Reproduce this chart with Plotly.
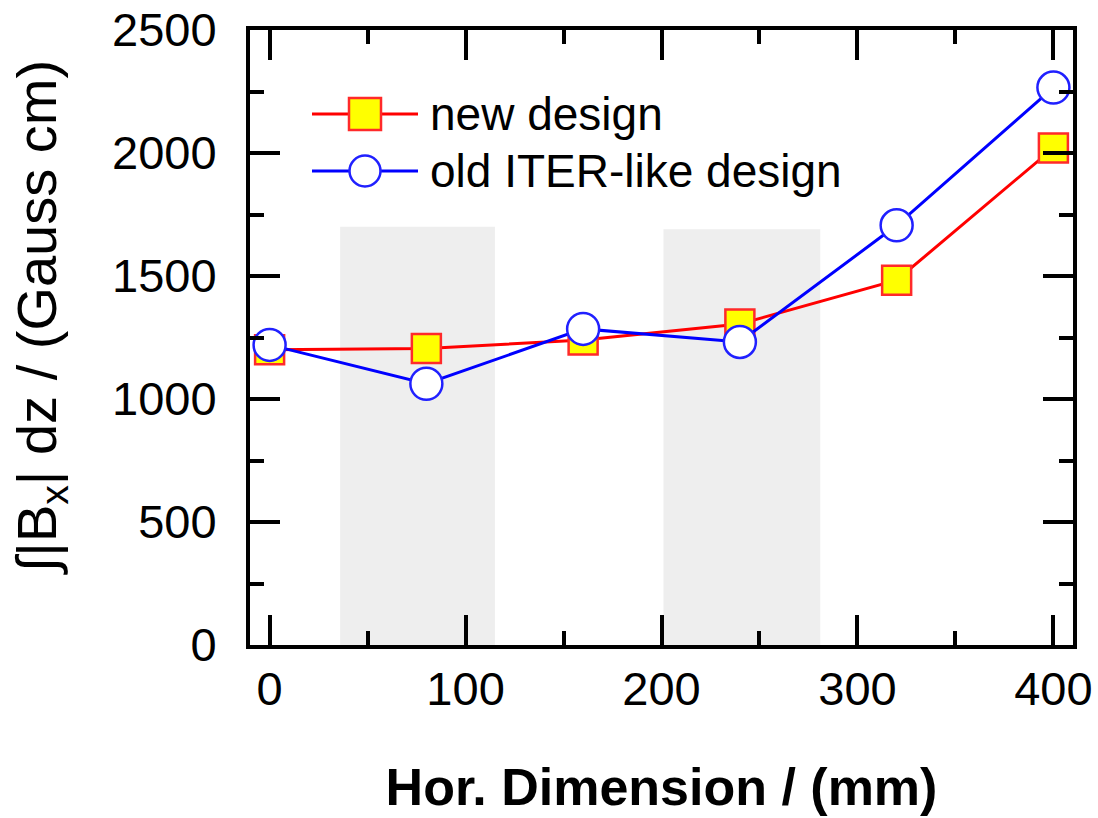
import plotly.graph_objects as go

x_pos = [0, 80, 160, 240, 320, 400]
new_design = [1200, 1205, 1240, 1305, 1483, 2020]
old_design = [1220, 1062, 1285, 1232, 1706, 2266]
shade_x0 = [36, 201]
shade_x1 = [115, 281]
shade_top = [1700, 1690]
series_names = ["new design", "old ITER-like design"]
x_ticks = [0, 100, 200, 300, 400]
y_ticks = [0, 500, 1000, 1500, 2000, 2500]
x_range = [-10, 410]
y_range = [0, 2500]

W, H = 1098, 818
ML, MR, MT, MB = 250, 25, 30, 173
PW = W - ML - MR
PH = H - MT - MB
FONT = "Liberation Sans, Arial"


def px(X):
    return (X - ML) / PW


def py(Y):
    return 1 - (Y - MT) / PH


fig = go.Figure()

for a, b, t in zip(shade_x0, shade_x1, shade_top):
    fig.add_shape(type="rect", xref="x", yref="y", x0=a, x1=b, y0=0, y1=t,
                  fillcolor="#eeeeee", line=dict(width=0), layer="below")

fig.add_trace(go.Scatter(
    x=x_pos, y=new_design, mode="lines+markers", name=series_names[0],
    line=dict(color="#ff0000", width=3),
    marker=dict(symbol="square", size=29, color="#ffff00",
                line=dict(color="#ff2a2a", width=2.5)),
    showlegend=False,
))
fig.add_trace(go.Scatter(
    x=x_pos, y=old_design, mode="lines+markers", name=series_names[1],
    line=dict(color="#0000ff", width=3),
    marker=dict(symbol="circle", size=32, color="#ffffff",
                line=dict(color="#2020ff", width=2.5)),
    showlegend=False,
))

# custom legend (paper coordinates) with full-size symbols
leg_rows = [114, 171]
for row_y, name, col in zip(leg_rows, series_names, ["#ff0000", "#0000ff"]):
    fig.add_shape(type="line", xref="paper", yref="paper",
                  x0=px(312), x1=px(418), y0=py(row_y), y1=py(row_y),
                  line=dict(color=col, width=3))
    fig.add_annotation(xref="paper", yref="paper", x=px(428), y=py(row_y),
                       text=name, showarrow=False, xanchor="left", yanchor="middle",
                       font=dict(family=FONT, size=46, color="black"))
fig.add_shape(type="rect", xref="paper", yref="paper",
              x0=px(349), x1=px(381), y0=py(leg_rows[0] + 16), y1=py(leg_rows[0] - 16),
              fillcolor="#ffff00", line=dict(color="#ff2a2a", width=2.5))
fig.add_shape(type="circle", xref="paper", yref="paper",
              x0=px(349.5), x1=px(380.5), y0=py(leg_rows[1] + 15.5), y1=py(leg_rows[1] - 15.5),
              fillcolor="#ffffff", line=dict(color="#2020ff", width=2.5))

# y-axis title placed like the reference (slightly above plot centre)
fig.add_annotation(xref="paper", yref="paper", x=px(40), y=py(318),
                   text="∫|B<sub>x</sub>| dz / (Gauss cm)", textangle=-90,
                   showarrow=False, xanchor="center", yanchor="middle",
                   font=dict(family=FONT, size=56, color="black"))

axis_common = dict(
    showline=True, linewidth=4, linecolor="black", mirror="ticks",
    ticks="inside", ticklen=30, tickwidth=4, tickcolor="black",
    showgrid=False, zeroline=False,
    tickfont=dict(family=FONT, size=47, color="black"),
)

fig.update_xaxes(
    range=x_range, tickvals=x_ticks,
    minor=dict(ticks="inside", ticklen=14, tickwidth=4, dtick=50, tick0=0, tickcolor="black"),
    title=dict(text="<b>Hor. Dimension / (mm)</b>", standoff=55,
               font=dict(family=FONT, size=52, color="black")),
    **axis_common,
)
fig.update_yaxes(
    range=y_range, tickvals=y_ticks, ticklabelstandoff=20,
    minor=dict(ticks="inside", ticklen=14, tickwidth=4, dtick=250, tick0=0, tickcolor="black"),
    **axis_common,
)

fig.update_layout(
    width=W, height=H,
    margin=dict(l=ML, r=MR, t=MT, b=MB, autoexpand=False),
    plot_bgcolor="white", paper_bgcolor="white",
    showlegend=False,
)

fig.write_html("out.html",
               config={"displayModeBar": False},
               post_script="document.body.style.margin='0';document.body.style.overflow='hidden';")
